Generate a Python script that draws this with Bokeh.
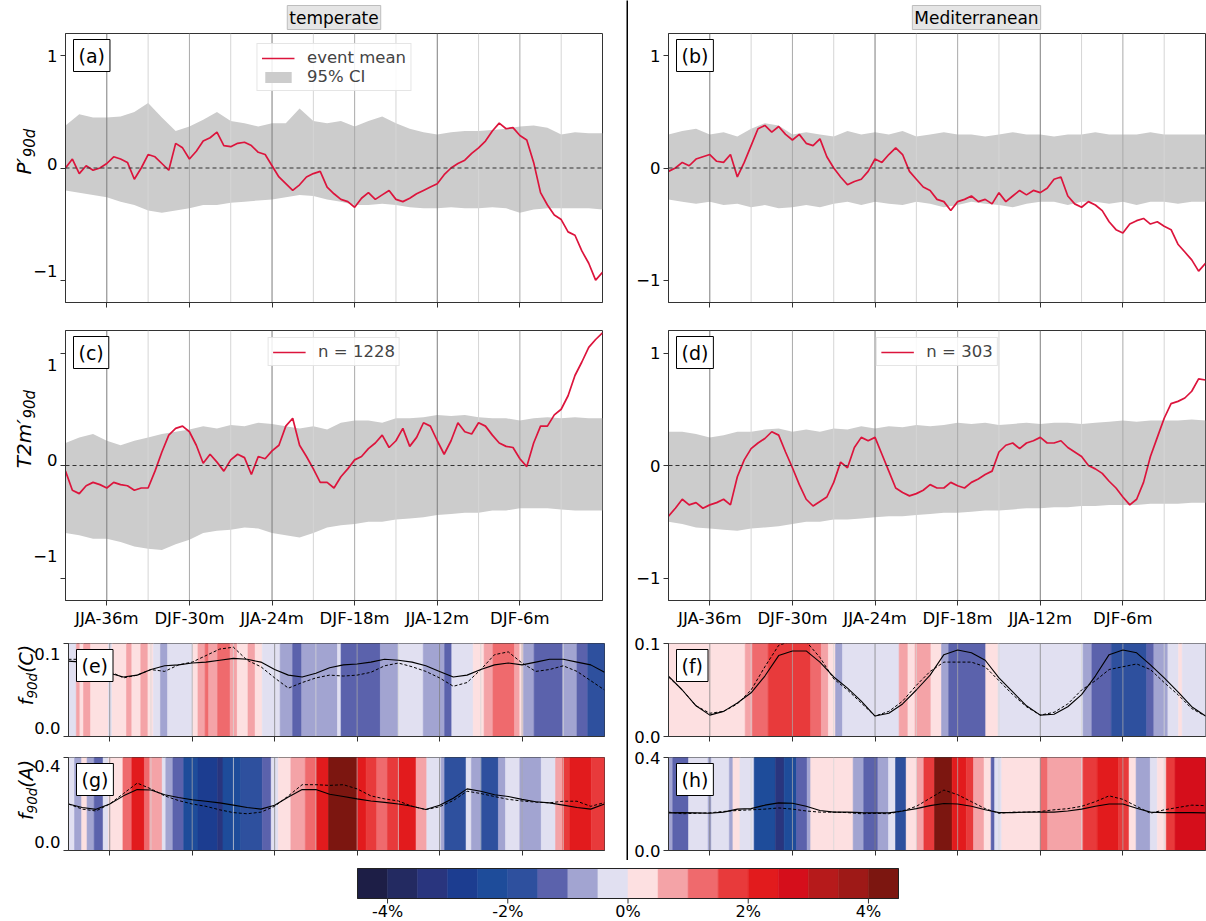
import numpy as np
from bokeh.plotting import figure
from bokeh.models import (Range1d, FixedTicker, Span, Label, Legend, LegendItem,
                          LinearColorMapper, PrintfTickFormatter, ColumnDataSource)
from bokeh.layouts import row, column
from bokeh.embed import file_html
from bokeh.resources import INLINE

FONT = "DejaVu Sans"

# ---------------- data ----------------
region_titles = ["temperate", "Mediterranean"]
n_events = [1228, 303]
tick_months = [-36, -30, -24, -18, -12, -6]
tick_labels = ["JJA-36m", "DJF-30m", "JJA-24m", "DJF-18m", "JJA-12m", "DJF-6m"]
season_lines = [-36, -33, -30, -27, -24, -21, -18, -15, -12, -9, -6, -3]
season_names = ["JJA", "SON", "DJF", "MAM"] * 3
x_start, x_end = -39, 0

months_half = [i * 0.5 for i in range(-78, 1)]
months_full = list(range(-39, 1))

# event means (every half month)
a_mean = [0.0, 0.08, -0.05, 0.02, -0.02, 0.0, 0.04, 0.1, 0.08, 0.05,
          -0.1, 0.0, 0.12, 0.1, 0.04, -0.02, 0.22, 0.18, 0.08, 0.15,
          0.24, 0.27, 0.32, 0.2, 0.19, 0.22, 0.23, 0.2, 0.14, 0.12,
          0.02, -0.08, -0.14, -0.2, -0.15, -0.08, -0.05, -0.03, -0.17, -0.23,
          -0.28, -0.3, -0.35, -0.27, -0.22, -0.28, -0.24, -0.2, -0.28, -0.3,
          -0.27, -0.23, -0.2, -0.17, -0.14, -0.06, 0.0, 0.04, 0.07, 0.13,
          0.18, 0.24, 0.33, 0.4, 0.35, 0.36, 0.29, 0.25, 0.05, -0.22,
          -0.33, -0.42, -0.46, -0.57, -0.6, -0.74, -0.85, -1.0, -0.93]
b_mean = [-0.03, 0.0, 0.05, 0.02, 0.08, 0.1, 0.12, 0.06, 0.05, 0.12,
          -0.08, 0.05, 0.2, 0.35, 0.38, 0.32, 0.37, 0.3, 0.25, 0.3,
          0.22, 0.2, 0.26, 0.1, 0.0, -0.08, -0.15, -0.12, -0.1, -0.03,
          0.08, 0.05, 0.12, 0.18, 0.12, -0.03, -0.1, -0.17, -0.2, -0.28,
          -0.3, -0.38, -0.3, -0.28, -0.25, -0.3, -0.28, -0.32, -0.22, -0.3,
          -0.25, -0.2, -0.24, -0.2, -0.22, -0.18, -0.1, -0.08, -0.25, -0.32,
          -0.35, -0.3, -0.33, -0.38, -0.48, -0.55, -0.58, -0.5, -0.47, -0.45,
          -0.5, -0.48, -0.52, -0.55, -0.68, -0.75, -0.82, -0.92, -0.85]
c_mean = [-0.05, -0.22, -0.25, -0.18, -0.15, -0.17, -0.2, -0.15, -0.17, -0.18,
          -0.22, -0.2, -0.2, -0.05, 0.12, 0.27, 0.33, 0.35, 0.3, 0.18,
          0.02, 0.1, 0.03, -0.05, 0.05, 0.1, 0.07, -0.08, 0.08, 0.06,
          0.13, 0.18, 0.35, 0.42, 0.18, 0.08, -0.03, -0.15, -0.15, -0.2,
          -0.1, -0.03, 0.05, 0.08, 0.15, 0.2, 0.27, 0.16, 0.22, 0.33,
          0.17, 0.25, 0.38, 0.35, 0.22, 0.1, 0.22, 0.38, 0.3, 0.28,
          0.38, 0.35, 0.27, 0.2, 0.17, 0.16, 0.06, -0.01, 0.2, 0.35,
          0.35, 0.45, 0.5, 0.62, 0.8, 0.92, 1.05, 1.12, 1.18]
d_mean = [-0.45, -0.38, -0.3, -0.35, -0.33, -0.38, -0.35, -0.33, -0.3, -0.35,
          -0.1, 0.05, 0.15, 0.2, 0.24, 0.3, 0.27, 0.12, -0.02, -0.17,
          -0.3, -0.36, -0.32, -0.28, -0.15, 0.03, -0.02, 0.16, 0.25, 0.22,
          0.25, 0.1, -0.05, -0.2, -0.24, -0.27, -0.25, -0.22, -0.17, -0.2,
          -0.2, -0.15, -0.18, -0.2, -0.15, -0.12, -0.08, -0.05, 0.12, 0.18,
          0.2, 0.15, 0.2, 0.22, 0.25, 0.2, 0.2, 0.22, 0.16, 0.12,
          0.08, 0.0, -0.03, -0.07, -0.14, -0.2, -0.28, -0.35, -0.3, -0.15,
          0.08, 0.25, 0.42, 0.55, 0.57, 0.6, 0.66, 0.77, 0.76]

# 95% confidence intervals (monthly)
a_upper = [0.38, 0.48, 0.45, 0.45, 0.46, 0.5, 0.58, 0.45, 0.33, 0.37,
           0.43, 0.5, 0.42, 0.4, 0.37, 0.4, 0.4, 0.53, 0.42, 0.4,
           0.42, 0.37, 0.42, 0.46, 0.4, 0.35, 0.32, 0.3, 0.32, 0.33,
           0.33, 0.34, 0.35, 0.37, 0.38, 0.36, 0.3, 0.32, 0.31, 0.31]
a_lower = [-0.2, -0.22, -0.24, -0.26, -0.3, -0.33, -0.38, -0.4, -0.38, -0.36,
           -0.33, -0.33, -0.31, -0.3, -0.29, -0.28, -0.26, -0.24, -0.25, -0.28,
           -0.3, -0.33, -0.33, -0.32, -0.33, -0.35, -0.36, -0.36, -0.35, -0.36,
           -0.36, -0.35, -0.36, -0.4, -0.37, -0.36, -0.36, -0.36, -0.36, -0.37]
b_upper = [0.3, 0.33, 0.35, 0.3, 0.32, 0.28, 0.35, 0.4, 0.38, 0.3,
           0.32, 0.3, 0.28, 0.33, 0.3, 0.32, 0.3, 0.33, 0.28, 0.3,
           0.32, 0.3, 0.3, 0.28, 0.3, 0.32, 0.3, 0.3, 0.28, 0.3,
           0.3, 0.32, 0.3, 0.3, 0.3, 0.32, 0.3, 0.3, 0.3, 0.3]
b_lower = [-0.28, -0.3, -0.32, -0.3, -0.33, -0.32, -0.35, -0.33, -0.36, -0.35,
           -0.33, -0.35, -0.32, -0.3, -0.33, -0.3, -0.32, -0.33, -0.3, -0.32,
           -0.35, -0.33, -0.3, -0.32, -0.33, -0.35, -0.32, -0.3, -0.3, -0.33,
           -0.3, -0.3, -0.32, -0.3, -0.33, -0.3, -0.3, -0.32, -0.3, -0.3]
c_upper = [0.2, 0.25, 0.28, 0.22, 0.18, 0.22, 0.25, 0.28, 0.3, 0.32,
           0.35, 0.33, 0.36, 0.35, 0.38, 0.37, 0.35, 0.33, 0.35, 0.32,
           0.38, 0.4, 0.4, 0.38, 0.42, 0.42, 0.43, 0.45, 0.44, 0.45,
           0.43, 0.42, 0.42, 0.4, 0.42, 0.43, 0.42, 0.43, 0.42, 0.42]
c_lower = [-0.6, -0.62, -0.65, -0.65, -0.68, -0.72, -0.74, -0.75, -0.7, -0.66,
           -0.6, -0.58, -0.57, -0.55, -0.56, -0.6, -0.62, -0.64, -0.6, -0.55,
           -0.53, -0.52, -0.5, -0.5, -0.48, -0.47, -0.46, -0.44, -0.43, -0.42,
           -0.42, -0.4, -0.4, -0.38, -0.38, -0.38, -0.39, -0.4, -0.4, -0.4]
d_upper = [0.3, 0.3, 0.28, 0.25, 0.27, 0.3, 0.3, 0.32, 0.33, 0.3,
           0.32, 0.3, 0.33, 0.32, 0.35, 0.33, 0.35, 0.34, 0.36, 0.35,
           0.36, 0.38, 0.37, 0.38, 0.36, 0.37, 0.38, 0.37, 0.38, 0.38,
           0.37, 0.38, 0.39, 0.4, 0.39, 0.4, 0.4, 0.4, 0.41, 0.4]
d_lower = [-0.5, -0.52, -0.55, -0.56, -0.57, -0.58, -0.56, -0.55, -0.54, -0.52,
           -0.5, -0.5, -0.48, -0.48, -0.47, -0.46, -0.45, -0.45, -0.44, -0.43,
           -0.42, -0.42, -0.41, -0.4, -0.4, -0.39, -0.38, -0.38, -0.37, -0.37,
           -0.36, -0.36, -0.35, -0.35, -0.35, -0.34, -0.34, -0.34, -0.33, -0.33]

# regime frequencies (monthly): solid and dashed
e_solid = [0.081, 0.08, 0.071, 0.068, 0.064, 0.066, 0.072, 0.076, 0.077, 0.079,
           0.08, 0.082, 0.084, 0.083, 0.08, 0.072, 0.066, 0.064, 0.068, 0.074,
           0.077, 0.078, 0.08, 0.083, 0.082, 0.08, 0.076, 0.07, 0.064, 0.066,
           0.072, 0.077, 0.079, 0.077, 0.08, 0.083, 0.083, 0.08, 0.077, 0.069]
e_dashed = [0.083, 0.083, 0.074, 0.07, 0.063, 0.066, 0.072, 0.07, 0.077, 0.08,
            0.087, 0.094, 0.096, 0.082, 0.075, 0.063, 0.052, 0.058, 0.063, 0.066,
            0.065, 0.066, 0.069, 0.076, 0.079, 0.075, 0.07, 0.063, 0.054, 0.058,
            0.072, 0.088, 0.091, 0.079, 0.07, 0.072, 0.076, 0.07, 0.06, 0.05]
f_solid = [0.065, 0.05, 0.033, 0.023, 0.027, 0.036, 0.047, 0.065, 0.087, 0.092,
           0.092, 0.08, 0.064, 0.052, 0.038, 0.022, 0.025, 0.035, 0.05, 0.066,
           0.088, 0.093, 0.09, 0.082, 0.063, 0.048, 0.033, 0.023, 0.024, 0.032,
           0.045, 0.065, 0.088, 0.093, 0.09, 0.077, 0.063, 0.048, 0.032, 0.022]
f_dashed = [0.064, 0.05, 0.033, 0.025, 0.027, 0.035, 0.05, 0.075, 0.098, 0.103,
            0.102, 0.085, 0.062, 0.05, 0.036, 0.022, 0.027, 0.038, 0.055, 0.07,
            0.08, 0.08, 0.08, 0.075, 0.06, 0.045, 0.032, 0.023, 0.026, 0.035,
            0.05, 0.06, 0.072, 0.075, 0.078, 0.072, 0.058, 0.045, 0.03, 0.022]
g_solid = [0.2, 0.185, 0.177, 0.2, 0.235, 0.262, 0.26, 0.24, 0.228, 0.218,
           0.212, 0.205, 0.195, 0.185, 0.178, 0.195, 0.23, 0.262, 0.262, 0.242,
           0.232, 0.222, 0.213, 0.207, 0.2, 0.19, 0.176, 0.195, 0.225, 0.265,
           0.255, 0.24, 0.232, 0.22, 0.21, 0.205, 0.195, 0.185, 0.178, 0.2]
g_dashed = [0.2, 0.178, 0.17, 0.2, 0.245, 0.29, 0.265, 0.235, 0.215, 0.2,
            0.19, 0.175, 0.163, 0.158, 0.165, 0.19, 0.235, 0.283, 0.283, 0.28,
            0.283, 0.265, 0.235, 0.222, 0.213, 0.19, 0.176, 0.188, 0.215, 0.255,
            0.245, 0.232, 0.22, 0.213, 0.208, 0.205, 0.212, 0.212, 0.19, 0.206]
h_solid = [0.162, 0.163, 0.162, 0.16, 0.165, 0.178, 0.18, 0.195, 0.205, 0.203,
           0.19, 0.172, 0.165, 0.165, 0.163, 0.162, 0.162, 0.17, 0.18, 0.193,
           0.202, 0.2, 0.19, 0.175, 0.163, 0.163, 0.165, 0.165, 0.165, 0.17,
           0.178, 0.19, 0.2, 0.2, 0.182, 0.165, 0.163, 0.163, 0.163, 0.162]
h_dashed = [0.165, 0.158, 0.16, 0.162, 0.168, 0.172, 0.175, 0.178, 0.183, 0.178,
            0.17, 0.165, 0.165, 0.163, 0.158, 0.16, 0.158, 0.17, 0.19, 0.225,
            0.26, 0.24, 0.21, 0.18, 0.16, 0.165, 0.165, 0.168, 0.175, 0.18,
            0.19, 0.21, 0.235, 0.22, 0.19, 0.16, 0.175, 0.185, 0.195, 0.193]

# anomaly stripes: segment start (month) and anomaly (%)
e_seg_start = [-39, -38.43, -38.17, -37.91, -37.39, -36.09, -35.83, -34.78, -34.39, -33.74,
               -33.22, -32.83, -32.31, -31.79, -29.97, -29.58, -29.06, -28.8, -28.15, -27.24,
               -26.72, -25.94, -25.42, -24.9, -23.6, -22.69, -22.03, -19.43, -19.17, -16.31,
               -15.01, -13.19, -11.63, -11.11, -9.55, -8.76, -8.11, -6.55, -6.16, -5.9,
               -5.12, -3.04, -2.0, -1.22]
e_seg_val = [-0.25, 0.75, 0.25, 0.75, 0.25, -0.25, 0.25, 0.75, 0.25, 0.75,
             0.25, -0.25, -0.75, -0.25, 0.25, 0.75, 1.25, 0.75, 1.25, 0.75,
             0.25, 0.75, 0.25, -0.25, -0.75, -1.25, -0.75, -0.25, -1.25, -0.75,
             -0.25, -0.75, -1.25, -0.25, 0.25, 0.75, 1.25, 0.75, 0.25, -0.75,
             -1.25, -0.75, -1.25, -1.75]
f_seg_start = [-39, -33.43, -32.91, -31.76, -28.67, -27.9, -27.39, -26.87, -26.36, -22.25,
               -21.61, -21.09, -19.94, -19.17, -18.65, -15.96, -15.06, -8.89, -8.25, -6.84,
               -4.27, -3.75, -2.73, -1.95, -1.69]
f_seg_val = [0.25, 0.75, 1.25, 1.75, 1.25, 0.75, 0.25, -0.75, -0.25, 0.75,
             0.25, 0.75, 0.25, -0.75, -1.25, 0.25, -0.25, -0.75, -1.25, -1.75,
             -1.25, -0.75, -0.25, 0.25, -0.25]
g_seg_start = [-39, -38.56, -38.04, -37.65, -37.13, -36.48, -36.09, -35.04, -34.39, -33.48,
               -33.09, -32.18, -31.92, -31.4, -30.62, -29.58, -28.15, -27.76, -26.46, -24.9,
               -24.25, -23.73, -22.82, -21.77, -20.99, -20.08, -18.0, -17.35, -16.57, -15.79,
               -15.01, -13.71, -12.93, -11.89, -11.63, -10.07, -9.68, -9.02, -7.72, -7.2,
               -6.16, -4.6, -3.56, -3.04, -2.52, -0.96]
g_seg_val = [-0.25, -0.75, 0.25, -0.75, -1.25, -0.25, 0.25, 1.25, 2.25, 1.25,
             0.75, -0.25, -0.75, -1.25, -2.25, -2.75, -3.25, -2.25, -1.75, -1.25,
             -0.25, 0.25, 0.75, 1.25, 2.25, 4.25, 2.25, 1.75, 1.25, 1.75,
             2.25, 0.75, -0.25, -0.75, -1.75, -0.25, -0.75, -1.75, -0.75, -0.25,
             -0.75, -0.25, 0.75, 1.75, 2.25, 1.75]
h_seg_start = [-39, -38.69, -37.54, -36.12, -35.87, -34.58, -34.32, -33.81, -32.78, -31.24,
               -30.6, -29.7, -28.93, -28.67, -25.59, -24.82, -23.79, -23.02, -22.51, -21.74,
               -20.97, -20.45, -19.68, -18.4, -17.37, -16.85, -16.08, -15.57, -15.31, -14.8,
               -11.97, -11.46, -8.89, -7.86, -6.32, -5.55, -5.04, -4.01, -3.5, -2.85,
               -2.21]
h_seg_val = [-0.75, -1.25, -0.25, -0.75, -0.25, -0.75, 0.25, -0.25, -2.25, -3.25,
             -2.25, -1.25, -0.75, 0.25, -0.75, -1.25, -0.75, -0.25, -1.75, 0.25,
             0.75, 1.75, 4.25, 2.25, 1.75, 0.75, 0.25, -1.25, -0.25, 0.25,
             1.25, 0.75, 1.75, 2.25, 1.75, 0.25, -0.75, -0.25, 0.25, 1.75,
             2.75]

# colour bar
cbar_palette = ["#1d1e46", "#232a61", "#29357e", "#1c3d90", "#1e4c9a", "#2e509e",
                "#5b62ac", "#a2a4d1", "#e1e0f1", "#fde0e1", "#f4a3a7", "#ef6a6d",
                "#e83a3b", "#e21b1d", "#d50e1b", "#b61a1b", "#9e1917", "#7c1610"]
cbar_low, cbar_high = -4.5, 4.5
cbar_ticks = [-4, -2, 0, 2, 4]
cbar_tick_labels = ["-4%", "-2%", "0%", "2%", "4%"]

# ---------------- styling helpers ----------------
RED = "#dc143c"
SPINE = "#333333"
LINE_COL = {"JJA": "#7d7d7d", "DJF": "#a9a9a9", "SON": "#d5d5d5", "MAM": "#d5d5d5"}
line_colors = [LINE_COL[s] for s in season_names]
cmap = LinearColorMapper(palette=cbar_palette, low=cbar_low, high=cbar_high)
TICK_FS = "16.5px"

CHAR_EM = {'P': 0.603, 'T': 0.611, '2': 0.636, 'm': 0.974, '\u2032': 0.30, 'f': 0.352,
           '9': 0.636, '0': 0.636, 'd': 0.635, '(': 0.390, ')': 0.390, 'C': 0.698, 'A': 0.684}


def plain_fig(w, h, xr=(0, 1), yr=(0, 1)):
    p = figure(width=w, height=h, x_range=Range1d(*xr), y_range=Range1d(*yr),
               toolbar_location=None, output_backend="svg", min_border=0,
               x_axis_location=None, y_axis_location=None)
    p.grid.visible = False
    p.outline_line_color = None
    return p


def make_fig(w, h, bl, br, bt, bb, y0, y1, xlabels=False, ylabels=True):
    p = figure(width=w, height=h, x_range=Range1d(x_start, x_end), y_range=Range1d(y0, y1),
               toolbar_location=None, output_backend="svg",
               min_border_left=bl, min_border_right=br, min_border_top=bt, min_border_bottom=bb)
    p.grid.visible = False
    p.outline_line_color = SPINE
    p.outline_line_width = 1
    for ax in p.axis:
        ax.axis_line_color = SPINE
        ax.major_tick_line_color = SPINE
        ax.major_tick_out = 5
        ax.major_tick_in = 0
        ax.minor_tick_line_color = None
        ax.major_label_text_font = FONT
        ax.major_label_text_font_size = TICK_FS
        ax.major_label_text_color = "#000000"
        ax.major_label_standoff = 3
    p.xaxis.ticker = FixedTicker(ticks=tick_months)
    if xlabels:
        p.xaxis.major_label_overrides = dict(zip(tick_months, tick_labels))
    else:
        p.xaxis.major_label_text_color = None
    if not ylabels:
        p.yaxis.major_label_text_color = None
    return p


def add_tag(p, text, fh):
    p.add_layout(Label(x=8, y=fh - 6, x_units="screen", y_units="screen", text=text,
                       text_align="left", text_baseline="top", text_font=FONT,
                       text_font_size="19px", text_color="black",
                       background_fill_color="white", border_line_color="black",
                       border_line_width=1, padding=5))


def season_grid(p, y0, y1, alpha=1.0):
    n = len(season_lines)
    p.segment(x0=season_lines, x1=season_lines, y0=[y0] * n, y1=[y1] * n,
              line_color=line_colors, line_width=1, line_alpha=alpha)


def series_panel(p, mean, lo, hi, y0, y1):
    ci = p.varea(x=months_full, y1=lo, y2=hi, fill_color="#cccccc", fill_alpha=1.0)
    season_grid(p, y0, y1)
    p.add_layout(Span(location=0, dimension="width", line_color="#333333",
                      line_dash="4 3", line_width=1.1))
    ln = p.line(months_half, mean, line_color=RED, line_width=1.7)
    p.yaxis.ticker = FixedTicker(ticks=[-1, 0, 1])
    p.yaxis.major_label_overrides = {-1: "\u22121", 0: "0", 1: "1"}
    return ln, ci


def stripe_panel(p, seg_start, seg_val, solid, dashed, ytop):
    right = seg_start[1:] + [x_end]
    src = ColumnDataSource(dict(left=seg_start, right=right, v=seg_val))
    p.quad(left="left", right="right", bottom=0, top=ytop, source=src,
           fill_color={"field": "v", "transform": cmap},
           line_color={"field": "v", "transform": cmap}, line_width=0.6)
    season_grid(p, 0, ytop, alpha=0.75)
    p.line(months_full, solid, line_color="black", line_width=1.1)
    p.line(months_full, dashed, line_color="black", line_width=1.0, line_dash="3 2")
    p.yaxis.ticker = FixedTicker(ticks=[0, ytop])
    p.yaxis.formatter = PrintfTickFormatter(format="%.1f")


def add_legend(p, items, margin):
    leg = Legend(items=items, location="top_center", label_text_font=FONT,
                 label_text_font_size=TICK_FS, glyph_width=33, glyph_height=14,
                 label_standoff=13, padding=4, spacing=0, margin=margin,
                 border_line_color="#cccccc", border_line_width=1,
                 background_fill_color="white", background_fill_alpha=0.85)
    p.add_layout(leg)


def label_fig(w, h, bt, bb, y0, y1, ticks, tick_texts, parts, xc, main, sub, dy):
    """Narrow figure left of a panel holding its y tick labels and y label."""
    fh = h - bt - bb
    k = (y1 - y0) / fh
    p = plain_fig(w, h, yr=(y0 - bb * k, y1 + bt * k))
    for t, s in zip(ticks, tick_texts):
        p.add_layout(Label(x=w - 2, y=t, x_units="screen", y_units="data", text=s,
                           text_align="right", text_baseline="middle", text_font=FONT,
                           text_font_size=TICK_FS, text_color="black"))
    widths = [sum(CHAR_EM.get(c, 0.62) for c in t) * (sub if s else main) for t, s in parts]
    y = bb + fh / 2 + dy - sum(widths) / 2
    for (t, s), wd in zip(parts, widths):
        p.add_layout(Label(x=xc + (6 if s else 0), y=y + wd / 2, x_units="screen",
                           y_units="screen", text=t, angle=np.pi / 2, text_align="center",
                           text_baseline="middle", text_font=FONT,
                           text_font_size=f"{sub if s else main}px",
                           text_font_style="italic", text_color="black"))
        y += wd
    return p


def title_fig(w, h, text, cx):
    p = plain_fig(w, h)
    p.add_layout(Label(x=cx, y=3, x_units="screen", y_units="screen", text=text,
                       text_align="center", text_baseline="bottom", text_font=FONT,
                       text_font_size="17px", text_color="black",
                       background_fill_color="#e5e5e5", border_line_color="#bdbdbd",
                       border_line_width=1, padding=2))
    return p


# ---------------- layout (page origin at 0,0) ----------------
WL, WR, WD = 626, 578, 2
HT = 32
R1 = dict(h=280, bt=1, bb=10)
R2 = dict(h=318, bt=18, bb=30)
R3 = dict(h=117, bt=13, bb=11)
R4 = dict(h=113, bt=10, bb=10)
FL_AC, FL_EG = 65, 68          # frame left (left column)
FW_AC, FW_EG = 537, 536        # frame widths (left column)
BL_R, FW_BD, FW_FH = 39, 538, 537
YL_X = 23                      # centre of the y-label glyphs (px from page left)


def fh(R):
    return R["h"] - R["bt"] - R["bb"]


pm_ticks = [-1, 0, 1]
pm_texts = ["\u22121", "0", "1"]

# ---- left column ----
lw_ac = FL_AC - 6
lw_eg = FL_EG - 6
pa = make_fig(WL - lw_ac, R1["h"], 6, WL - lw_ac - 6 - FW_AC, R1["bt"], R1["bb"], -1.2, 1.2,
              ylabels=False)
ln, ci = series_panel(pa, a_mean, a_lower, a_upper, -1.2, 1.2)
add_legend(pa, [LegendItem(label="event mean", renderers=[ln]),
                LegendItem(label="95% CI", renderers=[ci])], 10)
add_tag(pa, "(a)", fh(R1))
la = label_fig(lw_ac, R1["h"], R1["bt"], R1["bb"], -1.2, 1.2, pm_ticks, pm_texts,
               [("P\u2032", False), ("90d", True)], YL_X, 20, 15, 6)

pc = make_fig(WL - lw_ac, R2["h"], 6, WL - lw_ac - 6 - FW_AC, R2["bt"], R2["bb"], -1.2, 1.2,
              xlabels=True, ylabels=False)
ln, ci = series_panel(pc, c_mean, c_lower, c_upper, -1.2, 1.2)
add_legend(pc, [LegendItem(label=f"n = {n_events[0]}", renderers=[ln])], 7)
add_tag(pc, "(c)", fh(R2))
lc = label_fig(lw_ac, R2["h"], R2["bt"], R2["bb"], -1.2, 1.2, pm_ticks, pm_texts,
               [("T2m\u2032", False), ("90d", True)], YL_X, 20, 15, 6)

pe = make_fig(WL - lw_eg, R3["h"], 6, WL - lw_eg - 6 - FW_EG, R3["bt"], R3["bb"], 0, 0.1,
              ylabels=False)
stripe_panel(pe, e_seg_start, e_seg_val, e_solid, e_dashed, 0.1)
add_tag(pe, "(e)", fh(R3))
le = label_fig(lw_eg, R3["h"], R3["bt"], R3["bb"], 0, 0.1, [0, 0.1], ["0.0", "0.1"],
               [("f", False), ("90d", True), ("(C)", False)], YL_X + 2, 19, 13.5, 4)

pg = make_fig(WL - lw_eg, R4["h"], 6, WL - lw_eg - 6 - FW_EG, R4["bt"], R4["bb"], 0, 0.4,
              ylabels=False)
stripe_panel(pg, g_seg_start, g_seg_val, g_solid, g_dashed, 0.4)
add_tag(pg, "(g)", fh(R4))
lg = label_fig(lw_eg, R4["h"], R4["bt"], R4["bb"], 0, 0.4, [0, 0.4], ["0.0", "0.4"],
               [("f", False), ("90d", True), ("(A)", False)], YL_X + 2, 19, 13.5, 4)

tl = title_fig(WL, HT, region_titles[0], FL_AC + FW_AC / 2)

# ---- right column ----
pb = make_fig(WR, R1["h"], BL_R, WR - BL_R - FW_BD, R1["bt"], R1["bb"], -1.2, 1.2)
series_panel(pb, b_mean, b_lower, b_upper, -1.2, 1.2)
add_tag(pb, "(b)", fh(R1))

pd_ = make_fig(WR, R2["h"], BL_R, WR - BL_R - FW_BD, R2["bt"], R2["bb"], -1.2, 1.2, xlabels=True)
ln, ci = series_panel(pd_, d_mean, d_lower, d_upper, -1.2, 1.2)
add_legend(pd_, [LegendItem(label=f"n = {n_events[1]}", renderers=[ln])], 7)
add_tag(pd_, "(d)", fh(R2))

pf = make_fig(WR, R3["h"], BL_R + 1, WR - BL_R - 1 - FW_FH, R3["bt"], R3["bb"], 0, 0.1)
stripe_panel(pf, f_seg_start, f_seg_val, f_solid, f_dashed, 0.1)
add_tag(pf, "(f)", fh(R3))

ph = make_fig(WR, R4["h"], BL_R + 1, WR - BL_R - 1 - FW_FH, R4["bt"], R4["bb"], 0, 0.4)
stripe_panel(ph, h_seg_start, h_seg_val, h_solid, h_dashed, 0.4)
add_tag(ph, "(h)", fh(R4))

tr = title_fig(WR, HT, region_titles[1], BL_R + FW_BD / 2)

# ---- divider ----
HCOL = HT + R1["h"] + R2["h"] + R3["h"] + R4["h"]
div = plain_fig(WD, HCOL)
div.background_fill_color = "black"
div.border_fill_color = "black"

# ---- colour bar (own frame covers the whole figure) ----
CB_W, CB_H = WL + WD + WR, 921 - HCOL
CB_L, CB_R = 357, 898          # bar left/right (px)
CB_T, CB_B = 8, 38             # bar top/bottom (px from figure top)
ppu = (CB_R - CB_L) / (cbar_high - cbar_low)
bar_px = CB_B - CB_T
pcb = plain_fig(CB_W, CB_H,
                xr=(cbar_low - CB_L / ppu, cbar_high + (CB_W - CB_R) / ppu),
                yr=(-(CB_H - CB_B) / bar_px, 1 + CB_T / bar_px))
nb = len(cbar_palette)
step = (cbar_high - cbar_low) / nb
edges_l = [cbar_low + i * step for i in range(nb)]
edges_r = [cbar_low + (i + 1) * step for i in range(nb)]
pcb.quad(left=edges_l, right=edges_r, bottom=0, top=1, fill_color=cbar_palette,
         line_color=cbar_palette, line_width=0.5)
pcb.quad(left=[cbar_low], right=[cbar_high], bottom=[0], top=[1], fill_color=None,
         line_color="#222222", line_width=1)
nt = len(cbar_ticks)
pcb.segment(x0=cbar_ticks, x1=cbar_ticks, y0=[0] * nt, y1=[-5 / bar_px] * nt,
            line_color="#333333", line_width=1)
for t, lab in zip(cbar_ticks, cbar_tick_labels):
    pcb.add_layout(Label(x=t, y=-3 / bar_px, x_units="data", y_units="data", text=lab,
                         text_align="center", text_baseline="top", text_font=FONT,
                         text_font_size="16px", text_color="black"))

left = column(tl, row(la, pa), row(lc, pc), row(le, pe), row(lg, pg))
right = column(tr, pb, pd_, pf, ph)
layout = column(row(left, div, right), pcb)

open("out.html", "w").write(file_html(layout, INLINE, "event composites"))
